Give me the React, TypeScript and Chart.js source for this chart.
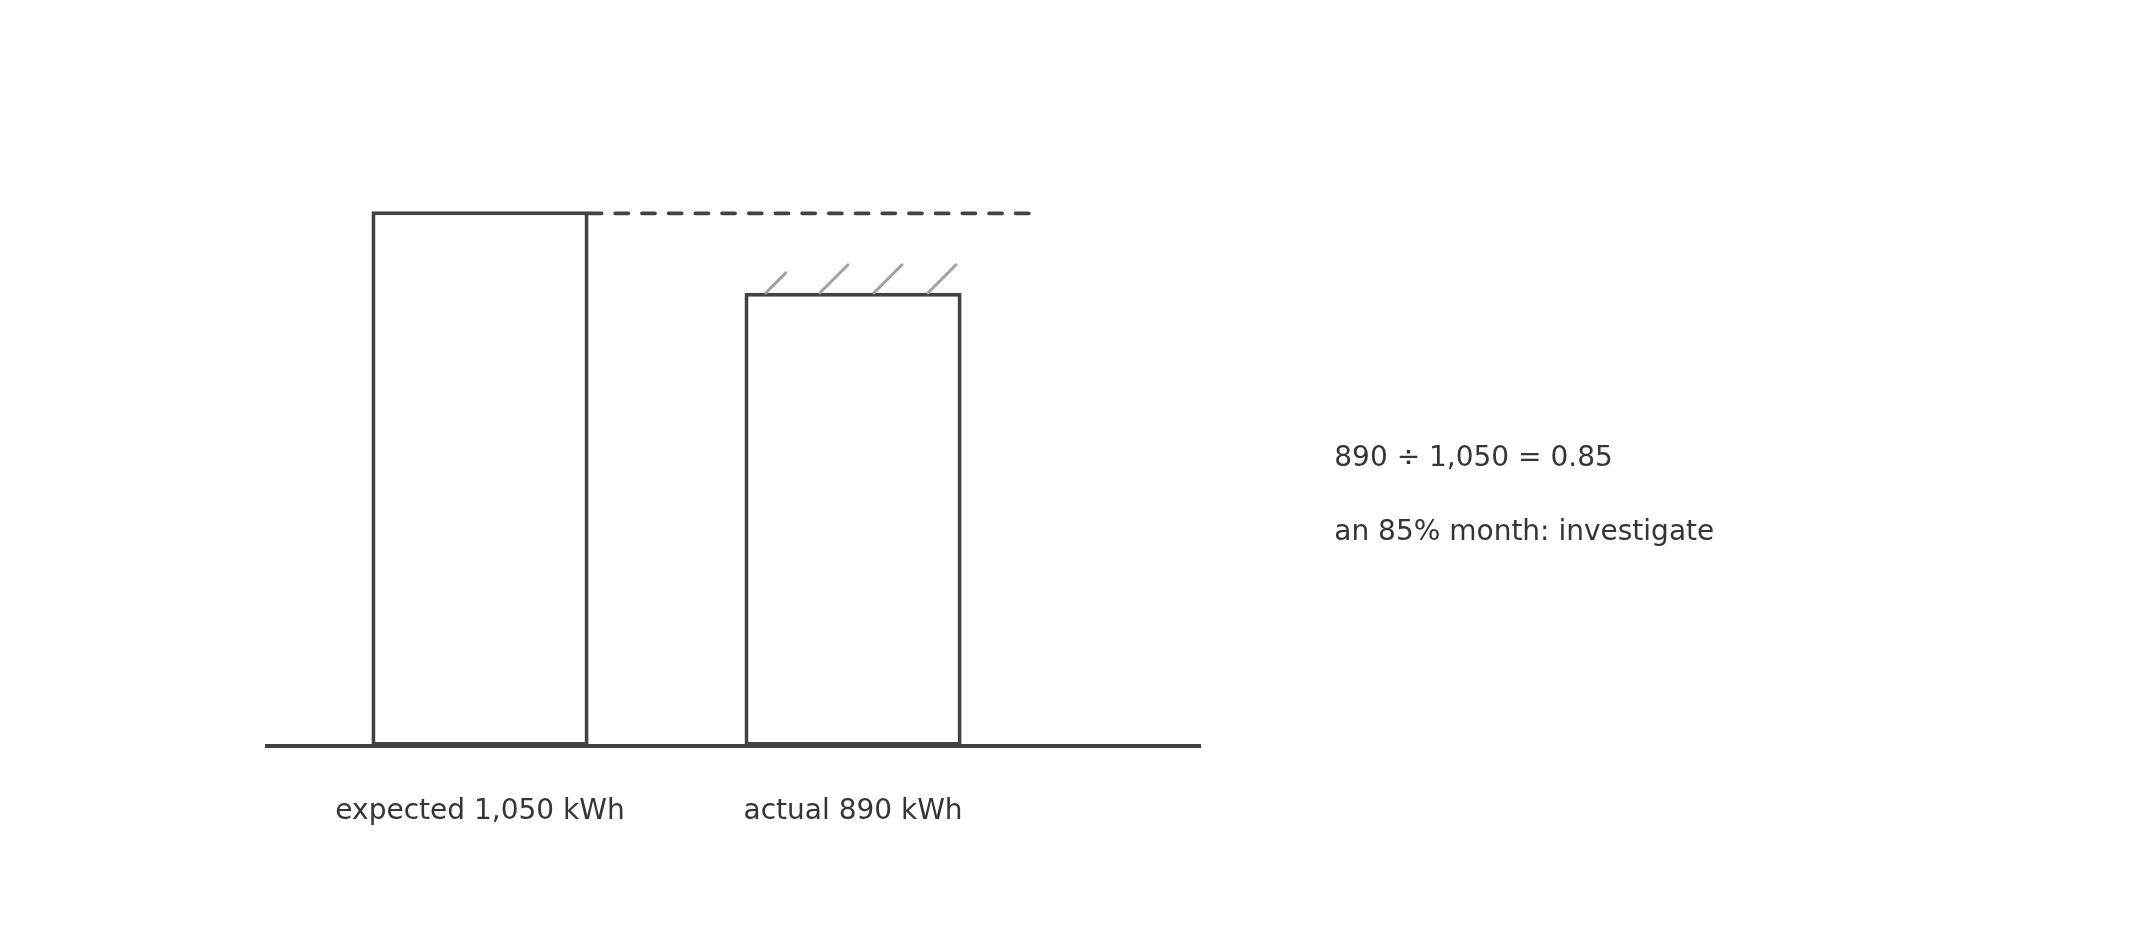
import * as React from 'react';
import { useEffect, useRef } from 'react';
import { Chart, registerables } from 'chart.js';

Chart.register(...registerables);

// chart values
const categories = ['expected 1,050 kWh', 'actual 890 kWh'];
const positions = [0, 1];
const energyKwh = [1050, 890];
const noteLines = ['890 ÷ 1,050 = 0.85', 'an 85% month: investigate'];

// axis extents (data units)
const xRange = [-0.571, 1.93];
const yRange = [0, 1196];
const dashEndX = 1.5;
const noteX = 2.29;
const noteY = [549, 405];

const INK = '#424242';
const TEXT = '#353535';
const HATCH = '#a3a3a3';
const FONT = '"DejaVu Sans", sans-serif';

const marksPlugin = {
  id: 'sketchMarks',
  afterDraw(chart: any) {
    const { ctx } = chart;
    const x = chart.scales.x;
    const y = chart.scales.y;
    const bars = chart.getDatasetMeta(0).data as any[];
    const first = bars[0];
    const second = bars[1];
    ctx.save();

    // dashed line at the expected level
    ctx.strokeStyle = INK;
    ctx.lineWidth = 3.8;
    ctx.lineCap = 'round';
    ctx.setLineDash([13, 13.7]);
    ctx.beginPath();
    ctx.moveTo(first.x + first.width / 2, first.y + 2);
    ctx.lineTo(x.getPixelForValue(dashEndX), first.y + 2);
    ctx.stroke();

    // little hatch strokes above the short bar
    ctx.setLineDash([]);
    ctx.strokeStyle = HATCH;
    ctx.lineWidth = 3;
    const left = second.x - second.width / 2;
    for (let i = 0; i < 4; i++) {
      const sx = left + second.width * (0.098 + i * 0.249);
      const len = i === 0 ? 20 : 28;
      ctx.beginPath();
      ctx.moveTo(sx, second.y);
      ctx.lineTo(sx + len, second.y - len);
      ctx.stroke();
    }

    // notes on the right
    ctx.fillStyle = TEXT;
    ctx.font = `28px ${FONT}`;
    ctx.textAlign = 'left';
    ctx.textBaseline = 'alphabetic';
    noteLines.forEach((t, i) => {
      ctx.fillText(t, x.getPixelForValue(noteX), y.getPixelForValue(noteY[i]));
    });
    ctx.restore();
  }
};

export default function App() {
  const canvasRef = useRef<HTMLCanvasElement>(null);

  useEffect(() => {
    document.body.style.margin = '0';
    const canvas = canvasRef.current;
    if (!canvas) return;
    const chart = new Chart(canvas, {
      type: 'bar',
      data: {
        datasets: [{
          data: positions.map((p, i) => ({ x: p, y: energyKwh[i] })),
          backgroundColor: '#ffffff',
          borderColor: INK,
          borderWidth: 4,
          borderSkipped: false,
          barPercentage: 0.582,
          categoryPercentage: 1
        }]
      },
      options: {
        animation: false,
        responsive: true,
        maintainAspectRatio: false,
        events: [],
        layout: { padding: { left: 267, right: 933, top: 137, bottom: 0 } },
        plugins: {
          legend: { display: false },
          tooltip: { enabled: false }
        },
        scales: {
          x: {
            type: 'linear',
            offset: false,
            min: xRange[0],
            max: xRange[1],
            afterBuildTicks: (s: any) => { s.ticks = positions.map(v => ({ value: v })); },
            afterFit: (s: any) => { s.height = 187; },
            grid: { display: false, drawTicks: false, offset: false },
            border: { display: true, color: INK, width: 4 },
            ticks: {
              autoSkip: false,
              maxRotation: 0,
              padding: 49,
              color: TEXT,
              font: { family: FONT, size: 28 },
              callback: (v: any) => categories[positions.indexOf(Number(v))] ?? ''
            }
          },
          y: {
            display: false,
            min: yRange[0],
            max: yRange[1]
          }
        }
      },
      plugins: [marksPlugin]
    });
    return () => chart.destroy();
  }, []);

  return (
    <div style={{ position: 'relative', width: 2133, height: 933, background: '#fff' }}>
      <canvas ref={canvasRef} />
    </div>
  );
}
